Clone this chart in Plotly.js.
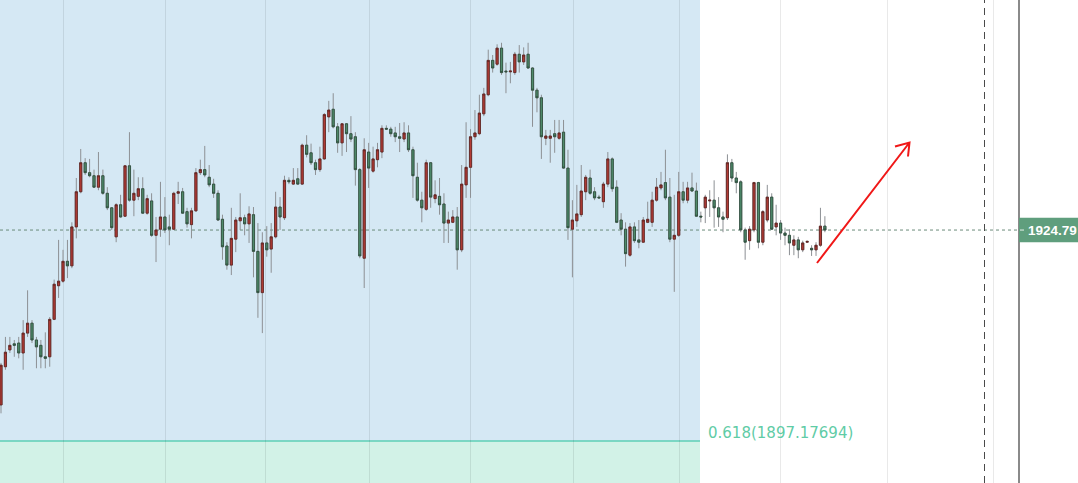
<!DOCTYPE html>
<html>
<head>
<meta charset="utf-8">
<script src="https://cdn.plot.ly/plotly-3.0.1.min.js"></script>
<style>
html,body{margin:0;padding:0;background:#fff;}
#chart{width:1078px;height:483px;}
</style>
</head>
<body>
<div id="chart"></div>
<script>
// ---- data (prices) ----
const open = [
1901.9,1906.9,1909.1,1909.9,1910.0,1908.7,1911.3,1912.6,1910.4,1909.7,
1908.2,1908.2,1913.1,1917.5,1918.1,1920.7,1920.1,1925.2,1929.8,1933.6,
1932.3,1931.9,1930.4,1931.9,1929.6,1927.7,1923.9,1928.1,1926.6,1933.2,
1928.7,1929.2,1930.2,1927.0,1928.6,1924.1,1924.9,1926.5,1925.2,1924.9,
1929.6,1929.8,1927.2,1925.5,1927.3,1932.3,1932.7,1931.7,1930.8,1929.6,
1926.2,1922.7,1920.2,1923.6,1926.0,1926.4,1925.6,1926.8,1922.0,1916.6,
1923.1,1922.3,1923.9,1927.8,1926.4,1931.3,1930.8,1931.5,1930.8,1935.9,
1934.9,1933.6,1932.7,1934.1,1939.6,1940.6,1938.3,1936.2,1938.7,1937.4,
1937.0,1932.7,1921.1,1935.0,1932.5,1934.0,1935.0,1938.1,1938.0,1937.5,
1937.0,1936.7,1937.5,1935.3,1931.7,1928.7,1927.5,1933.6,1928.9,1929.2,
1928.2,1925.7,1925.8,1926.5,1922.2,1930.7,1933.0,1937.0,1937.4,1940.0,
1942.5,1947.0,1946.5,1948.6,1945.6,1945.5,1945.4,1947.8,1946.8,1947.8,
1946.0,1943.1,1942.1,1936.8,1936.8,1937.4,1936.8,1937.6,1932.9,1924.9,
1926.0,1926.8,1929.8,1931.6,1929.8,1929.1,1928.5,1930.8,1934.1,1930.4,
1926.1,1924.9,1921.5,1925.2,1923.5,1923.2,1925.8,1925.8,1928.7,1930.3,
1931.0,1929.1,1923.6,1924.1,1929.8,1928.7,1930.3,1929.9,1926.6,1927.7,
1928.6,1928.7,1927.7,1926.5,1926.4,1933.6,1931.6,1931.1,1924.8,1923.4,
1924.8,1931.0,1923.2,1926.1,1929.1,1925.2,1925.7,1924.4,1924.1,1922.8,
1923.5,1922.2,1923.2,1922.4,1922.2,1922.8,1925.3];
const high = [
1907.4,1910.8,1910.8,1910.4,1910.8,1913.0,1916.9,1913.0,1910.8,1910.4,
1911.4,1913.4,1918.3,1923.5,1922.2,1923.5,1925.8,1931.6,1935.4,1934.2,
1934.1,1932.7,1935.0,1932.7,1930.4,1927.8,1928.3,1929.4,1933.3,1937.6,
1932.7,1931.7,1931.7,1929.4,1929.6,1926.5,1931.1,1929.1,1926.8,1929.8,
1931.1,1930.3,1927.7,1927.7,1932.9,1934.0,1935.8,1933.3,1931.5,1930.0,
1926.8,1923.2,1927.7,1926.5,1929.6,1926.8,1927.9,1927.8,1925.7,1924.5,
1925.3,1925.7,1929.8,1929.1,1931.9,1931.7,1932.9,1932.9,1936.1,1937.2,
1936.1,1934.0,1935.7,1940.1,1941.7,1942.7,1938.8,1938.8,1938.8,1939.7,
1937.6,1932.9,1936.8,1936.2,1935.7,1936.2,1938.5,1938.5,1938.3,1938.3,
1938.8,1938.9,1938.5,1935.7,1933.6,1929.8,1934.0,1933.7,1931.3,1931.6,
1929.6,1927.2,1927.4,1927.8,1933.3,1938.9,1938.0,1940.5,1942.5,1943.4,
1948.4,1947.7,1949.1,1949.3,1946.7,1946.8,1948.1,1949.0,1948.7,1949.3,
1946.1,1943.4,1942.5,1937.9,1937.9,1939.2,1939.2,1939.2,1935.3,1928.7,
1930.7,1933.3,1932.0,1932.7,1930.4,1929.4,1931.1,1935.0,1934.3,1931.3,
1927.0,1925.8,1925.7,1925.8,1926.1,1926.5,1928.5,1929.8,1931.6,1932.4,
1935.3,1931.6,1929.4,1932.4,1931.1,1931.1,1932.3,1931.0,1927.2,1929.4,
1930.0,1931.3,1929.1,1927.2,1934.7,1934.1,1932.4,1931.3,1925.1,1925.3,
1931.1,1931.1,1927.4,1930.7,1929.6,1928.1,1926.1,1925.1,1924.9,1924.1,
1923.9,1923.4,1923.4,1922.8,1923.2,1927.7,1926.6];
const low = [
1900.8,1906.5,1908.7,1908.2,1908.0,1906.5,1910.8,1910.0,1906.7,1906.7,
1906.7,1906.9,1913.0,1915.9,1917.9,1918.5,1919.8,1923.7,1929.6,1932.0,
1931.7,1930.3,1930.0,1929.4,1927.4,1924.8,1923.2,1926.4,1926.5,1928.5,
1926.6,1928.7,1926.9,1926.8,1923.9,1920.6,1923.9,1924.4,1922.8,1924.8,
1928.2,1926.9,1925.1,1923.7,1927.2,1932.0,1931.7,1930.4,1929.0,1926.0,
1920.9,1919.6,1918.9,1921.9,1924.8,1924.1,1923.1,1918.6,1913.3,1911.3,
1921.3,1919.2,1923.7,1924.8,1926.1,1930.8,1930.7,1930.7,1930.7,1934.3,
1933.3,1932.0,1932.4,1934.0,1937.6,1938.1,1934.9,1934.5,1935.0,1936.3,
1930.6,1921.1,1917.2,1930.3,1932.3,1933.0,1934.2,1937.9,1937.0,1936.3,
1935.0,1936.3,1935.0,1929.0,1928.5,1925.8,1927.3,1927.7,1928.3,1926.8,
1923.1,1923.1,1925.7,1919.6,1921.9,1929.0,1929.0,1936.6,1937.2,1939.7,
1942.3,1945.4,1946.3,1945.1,1942.7,1944.0,1945.1,1945.4,1946.4,1945.9,
1938.3,1940.2,1934.1,1935.9,1933.6,1934.9,1936.6,1932.8,1923.5,1918.6,
1925.2,1926.5,1928.7,1929.4,1928.7,1928.9,1927.7,1930.4,1929.8,1925.7,
1924.1,1920.0,1921.3,1923.1,1922.4,1923.1,1925.7,1925.2,1928.5,1930.0,
1928.7,1923.2,1916.7,1923.9,1928.3,1928.3,1929.8,1926.5,1925.8,1925.7,
1926.5,1925.1,1925.2,1924.5,1926.1,1931.1,1929.6,1924.5,1920.9,1922.2,
1924.5,1922.4,1922.8,1925.8,1924.8,1924.1,1923.5,1922.8,1921.5,1921.5,
1921.1,1921.9,1923.1,1921.4,1921.4,1922.6,1924.5];
const close = [
1907.1,1908.8,1909.7,1909.7,1908.7,1911.3,1912.6,1910.4,1909.5,1908.2,
1908.0,1913.1,1917.7,1918.1,1920.7,1920.1,1925.2,1929.8,1933.6,1932.3,
1931.9,1930.4,1931.9,1929.6,1927.7,1925.1,1928.1,1926.5,1933.2,1928.7,
1929.6,1930.2,1927.0,1928.9,1924.1,1924.8,1926.5,1924.8,1924.9,1929.6,
1929.8,1927.0,1925.6,1927.3,1932.3,1932.7,1932.0,1930.7,1929.6,1926.1,
1922.6,1920.2,1923.7,1926.1,1926.4,1925.6,1926.9,1922.0,1916.6,1923.1,
1922.2,1923.9,1927.8,1926.5,1931.3,1931.1,1931.3,1930.8,1935.9,1934.7,
1933.6,1932.7,1934.1,1939.9,1940.5,1938.3,1936.2,1938.7,1937.4,1936.7,
1932.7,1921.4,1935.3,1932.9,1934.1,1935.3,1938.1,1938.0,1937.4,1937.0,
1936.8,1937.5,1935.3,1931.9,1928.7,1927.7,1933.6,1929.1,1929.4,1928.1,
1925.7,1926.1,1926.5,1922.2,1930.8,1933.0,1937.0,1937.5,1940.1,1942.6,
1947.0,1946.0,1948.6,1945.4,1945.5,1945.6,1947.8,1946.8,1947.7,1946.0,
1943.1,1942.1,1937.0,1937.1,1937.1,1937.0,1937.5,1932.9,1925.1,1926.1,
1926.9,1929.9,1931.7,1929.6,1929.0,1929.0,1930.8,1934.1,1930.2,1925.8,
1924.9,1921.7,1925.2,1923.4,1923.2,1926.1,1926.2,1928.7,1930.4,1930.7,
1929.0,1923.6,1924.1,1929.8,1928.7,1930.3,1929.9,1926.6,1926.5,1929.1,
1928.7,1927.7,1926.5,1926.2,1933.6,1931.6,1931.0,1924.8,1923.2,1924.9,
1931.0,1923.2,1927.2,1929.1,1924.9,1925.7,1924.4,1924.1,1923.1,1923.5,
1922.2,1923.1,1923.3,1922.2,1922.8,1925.3,1924.79];

const lastPrice = 1924.79;
const fibLevel = 0.618;
const fibPrice = 1897.17694;
// vertical grid line positions (bar index)
const gridIdx = [14.1, 37.2, 59.8, 83.3, 105.9, 129.2, 153.1, 176.0, 200.2, 224.0];

// ---- build ----
const N = Math.min(open.length, high.length, low.length, close.length);
const x = [], o = [], h = [], l = [], c = [], bh = [], bl = [];
for (let i = 0; i < N; i++) {
  x.push(i); o.push(open[i]); h.push(high[i]); l.push(low[i]); c.push(close[i]);
  bh.push(Math.max(open[i], close[i])); bl.push(Math.min(open[i], close[i]));
}
const RED = '#b33c36', GREEN = '#4f8b6b';

const wicks = {
  type: 'candlestick', x: x, open: o, high: h, low: l, close: c,
  increasing: {line: {color: '#8d9094', width: 1}, fillcolor: RED},
  decreasing: {line: {color: '#8d9094', width: 1}, fillcolor: GREEN},
  whiskerwidth: 0, hoverinfo: 'skip', showlegend: false
};
const bodies = {
  type: 'candlestick', x: x, open: o, high: bh, low: bl, close: c,
  increasing: {line: {color: '#5c2220', width: 0.8}, fillcolor: RED},
  decreasing: {line: {color: '#2c4a3a', width: 0.8}, fillcolor: GREEN},
  whiskerwidth: 0, hoverinfo: 'skip', showlegend: false
};

const W = 1018, H = 483;           // plot area in px
const yTop = 1954.9, yBot = 1891.68;
const fibRight = 700 / W;
function P(px, py) { return (px / W).toFixed(5) + ',' + (1 - py / H).toFixed(5); }
const arrowPath = 'M' + P(817, 263) + 'L' + P(909.5, 142.5) +
                  'M' + P(895, 146.5) + 'L' + P(909.5, 142.5) + 'L' + P(908, 156.5);

const layout = {
  width: 1078, height: 483,
  margin: {l: 0, r: 60, t: 0, b: 0, pad: 0},
  paper_bgcolor: '#ffffff', plot_bgcolor: 'rgba(0,0,0,0)',
  showlegend: false, dragmode: false,
  xaxis: {
    range: [-0.226, 229.6], rangeslider: {visible: false},
    tickvals: gridIdx, showticklabels: false, ticks: '',
    showgrid: true, gridcolor: 'rgba(0,0,0,0.085)', gridwidth: 1,
    zeroline: false, showline: false, fixedrange: true
  },
  yaxis: {
    range: [yBot, yTop], side: 'right', showgrid: false, zeroline: false,
    showticklabels: false, ticks: '', showline: true, linecolor: '#8a8a8a', linewidth: 1.5,
    fixedrange: true
  },
  shapes: [
    {type: 'rect', xref: 'paper', yref: 'y', x0: 0, x1: fibRight, y0: fibPrice, y1: yTop,
     fillcolor: '#d5e8f4', line: {width: 0}, layer: 'below'},
    {type: 'rect', xref: 'paper', yref: 'y', x0: 0, x1: fibRight, y0: yBot, y1: fibPrice,
     fillcolor: '#d2f2e7', line: {width: 0}, layer: 'below'},
    {type: 'line', xref: 'paper', yref: 'y', x0: 0, x1: fibRight, y0: fibPrice, y1: fibPrice,
     line: {color: '#5ccfb6', width: 1.5}, layer: 'below'},
    {type: 'line', xref: 'paper', yref: 'y', x0: 0, x1: 1, y0: lastPrice, y1: lastPrice,
     line: {color: '#6c8c7b', width: 1, dash: 'dot'}, layer: 'below'},
    {type: 'line', xref: 'paper', yref: 'paper', x0: 984.5 / W, x1: 984.5 / W, y0: 0, y1: 1,
     line: {color: '#4a4a4a', width: 1, dash: '7px,5px'}},
    {type: 'path', xref: 'paper', yref: 'paper', path: arrowPath,
     line: {color: '#f01818', width: 2}},
    {type: 'rect', xref: 'paper', yref: 'y', x0: 1019 / W, x1: 1080 / W,
     y0: lastPrice - 1.6, y1: lastPrice + 1.6, fillcolor: '#5f9e7d', line: {width: 0}},
    {type: 'line', xref: 'paper', yref: 'y', x0: 1020 / W, x1: 1024 / W, y0: lastPrice, y1: lastPrice,
     line: {color: '#e8f2ec', width: 1}}
  ],
  annotations: [
    {xref: 'paper', yref: 'y', x: 706 / W, y: fibPrice, xanchor: 'left', yanchor: 'middle',
     yshift: 8, showarrow: false,
     text: fibLevel.toFixed(3) + '(' + fibPrice.toFixed(5) + ')',
     font: {family: 'DejaVu Sans', size: 15, color: '#5fcca6'}},
    {xref: 'paper', yref: 'y', x: 1026 / W, y: lastPrice, xanchor: 'left', yanchor: 'middle',
     showarrow: false, text: '<b>' + lastPrice.toFixed(2) + '</b>',
     font: {family: 'Liberation Sans', size: 13.5, color: '#ffffff'}}
  ]
};

Plotly.newPlot('chart', [wicks, bodies], layout, {displayModeBar: false, staticPlot: true});
</script>
</body>
</html>
